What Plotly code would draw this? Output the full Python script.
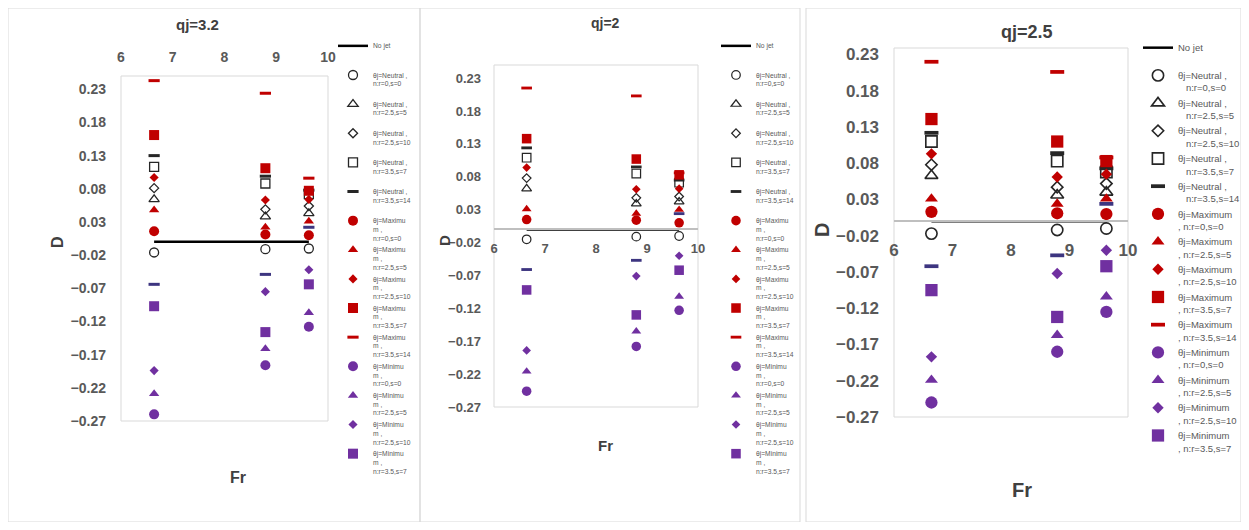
import plotly.graph_objects as go

# ---------------- data ----------------
FR = [6.64, 8.79, 9.63]
NO_JET = [0.0, 0.0, 0.0]

PANEL_TITLES = ["qj=3.2", "qj=2", "qj=2.5"]
X_TICKS = [6, 7, 8, 9, 10]
Y_TICKS = [-0.27, -0.22, -0.17, -0.12, -0.07, -0.02, 0.03, 0.08, 0.13, 0.18, 0.23]

SERIES_CASES = ["n:r=0,s=0", "n:r=2.5,s=5", "n:r=2.5,s=10", "n:r=3.5,s=7", "n:r=3.5,s=14"]

# order inside each group: circle, triangle, diamond, square, dash
QJ32_NEUTRAL = [[-0.016, -0.011, -0.010], [0.064, 0.038, 0.043], [0.081, 0.049, 0.054],
                [0.113, 0.088, 0.072], [0.130, 0.099, 0.078]]
QJ32_MAXIMUM = [[0.016, 0.011, 0.010], [0.048, 0.022, 0.031], [0.097, 0.063, 0.064],
                [0.161, 0.111, 0.077], [0.243, 0.224, 0.096]]
QJ32_MINIMUM = [[-0.260, -0.186, -0.128], [-0.229, -0.161, -0.107], [-0.194, -0.075, -0.042],
                [-0.097, -0.136, -0.064], [-0.064, -0.049, 0.022]]

QJ2_NEUTRAL = [[-0.015, -0.011, -0.010], [0.062, 0.039, 0.042], [0.078, 0.048, 0.050],
               [0.109, 0.085, 0.071], [0.124, 0.095, 0.075]]
QJ2_MAXIMUM = [[0.015, 0.014, 0.010], [0.031, 0.024, 0.030], [0.094, 0.061, 0.062],
               [0.138, 0.107, 0.083], [0.215, 0.203, 0.086]]
QJ2_MINIMUM = [[-0.246, -0.178, -0.123], [-0.216, -0.155, -0.102], [-0.184, -0.071, -0.040],
               [-0.092, -0.130, -0.062], [-0.061, -0.047, 0.024]]

QJ25_NEUTRAL = [[-0.017, -0.012, -0.010], [0.063, 0.036, 0.040], [0.078, 0.047, 0.052],
                [0.110, 0.083, 0.068], [0.122, 0.094, 0.073]]
QJ25_MAXIMUM = [[0.013, 0.011, 0.010], [0.031, 0.024, 0.031], [0.093, 0.061, 0.065],
                [0.141, 0.110, 0.083], [0.220, 0.206, 0.088]]
QJ25_MINIMUM = [[-0.250, -0.180, -0.125], [-0.219, -0.157, -0.104], [-0.187, -0.072, -0.040],
                [-0.095, -0.132, -0.062], [-0.062, -0.047, 0.024]]

# ---------------- styling ----------------
OFF = 8                      # default page margin around the plot div
W, H = 1249 - 2 * OFF, 530 - 2 * OFF
FONT = "Liberation Sans, Arial, sans-serif"
GRAY = "#595959"
RED = "#C00000"
PURPLE = "#7030A0"
NAVY = "#3D3580"
BLACK = "#262626"

SYM_OPEN = ["circle-open", "triangle-up-open", "diamond-open", "square-open", "line-ew-open"]
SYM_FILL = ["circle", "triangle-up", "diamond", "square", "line-ew-open"]
BASE_SIZE = [9, 9, 7, 9, 8]


def px_x(p):
    return min(max((p - OFF) / W, 0.0), 1.0)


def px_y(p):
    return min(max(1 - (p - OFF) / H, 0.0), 1.0)


panels = [
    dict(data=(QJ32_NEUTRAL, QJ32_MAXIMUM, QJ32_MINIMUM), xd=(121, 328), yd=(76, 421),
         yr=(-0.27, 0.25), scale=1.0, tick=14, xside="top", legx=333, legy=35, legfont=6.7,
         narrow=True, title=(198, 25), dlab=(58, 242), frlab=(238, 477), tfont=15, afont=16,
         xstand=10, ystand=14, box=(8, 7, 420, 528)),
    dict(data=(QJ2_NEUTRAL, QJ2_MAXIMUM, QJ2_MINIMUM), xd=(494, 698), yd=(65, 407),
         yr=(-0.27, 0.25), scale=0.95, tick=13, xside="zero", legx=716, legy=35, legfont=6.7,
         narrow=True, title=(605, 23), dlab=(445, 240), frlab=(605, 445), tfont=14, afont=15,
         xstand=7, ystand=12, box=(420, 7, 800, 528)),
    dict(data=(QJ25_NEUTRAL, QJ25_MAXIMUM, QJ25_MINIMUM), xd=(894, 1128), yd=(48, 417),
         yr=(-0.27, 0.239), scale=1.25, tick=17, xside="zero", legx=1138, legy=35, legfont=9.5,
         narrow=False, title=(1027, 32), dlab=(822, 230), frlab=(1022, 490), tfont=18, afont=20,
         xstand=14, ystand=14, box=(806, 5, 1260, 528)),
]

fig = go.Figure()
layout = dict(width=W, height=H, margin=dict(l=0, r=0, t=0, b=0, autoexpand=False),
              paper_bgcolor="white", plot_bgcolor="white", showlegend=True,
              shapes=[], annotations=[])

for i, p in enumerate(panels):
    k = "" if i == 0 else str(i + 1)
    xa, ya = "x" + k, "y" + k
    leg = "legend" + k
    sc = p["scale"]
    neutral, maximum, minimum = p["data"]

    def lname(theta, j):
        if p["narrow"]:
            if theta == "Neutral":
                return "θj=Neutral ,<br>" + SERIES_CASES[j] + "<br>\u00a0"
            return "θj=" + theta[:6] + "<br>" + theta[6:] + " ,<br>" + SERIES_CASES[j]
        if theta == "Neutral":
            return "θj=Neutral ,<br>\u00a0\u00a0\u00a0" + SERIES_CASES[j]
        return "θj=" + theta + "<br>, " + SERIES_CASES[j]

    nojet_name = "No jet<br>\u00a0<br>\u00a0" if p["narrow"] else "No jet<br>\u00a0"
    fig.add_trace(go.Scatter(x=FR, y=NO_JET, mode="lines", name=nojet_name,
                             line=dict(color="black", width=2.5), xaxis=xa, yaxis=ya, legend=leg))

    for theta, group, color in (("Neutral", neutral, BLACK), ("Maximum", maximum, RED),
                                ("Minimum", minimum, PURPLE)):
        for j, vals in enumerate(group):
            sym = SYM_OPEN[j] if theta == "Neutral" else SYM_FILL[j]
            size = BASE_SIZE[j] * sc
            c = color
            show = True
            if theta == "Minimum" and j == 4:
                c = NAVY
                show = False
            if j == 4:
                mk = dict(symbol=sym, size=size, color=c, line=dict(color=c, width=3 * sc))
            elif theta == "Neutral":
                mk = dict(symbol=sym, size=size, color=c, line=dict(color=c, width=1.3 * sc))
            else:
                mk = dict(symbol=sym, size=size + (1 if j in (0, 3) else 0), color=c,
                          line=dict(width=0))
            fig.add_trace(go.Scatter(x=FR, y=vals, mode="markers", name=lname(theta, j),
                                     marker=mk, xaxis=xa, yaxis=ya, legend=leg,
                                     showlegend=show))

    ydom = [px_y(p["yd"][1]), px_y(p["yd"][0])]
    xdom = [px_x(p["xd"][0]), px_x(p["xd"][1])]
    ymin, ymax = p["yr"]
    tickfont = dict(family=FONT, size=p["tick"], color=GRAY, weight="bold")

    xax = dict(domain=xdom, range=[6, 10], tickvals=X_TICKS, showgrid=False, zeroline=False,
               ticks="", tickfont=tickfont, ticklabelstandoff=p["xstand"], fixedrange=True)
    if p["xside"] == "top":
        xax.update(anchor=ya, side="top", showline=False)
    else:
        zero_pos = ydom[0] + (0 - ymin) / (ymax - ymin) * (ydom[1] - ydom[0])
        xax.update(anchor="free", position=zero_pos, side="bottom", showline=True,
                   linecolor="#bfbfbf", linewidth=1.5)
    yax = dict(domain=ydom, range=[ymin, ymax], tickvals=Y_TICKS, tickformat=".2f",
               showgrid=False, zeroline=False, showline=False, ticks="", tickfont=tickfont,
               ticklabelstandoff=p["ystand"], anchor=xa, fixedrange=True)
    layout["xaxis" + k] = xax
    layout["yaxis" + k] = yax

    layout[leg] = dict(x=px_x(p["legx"]), y=px_y(p["legy"]), xanchor="left", yanchor="top",
                       valign="top", bgcolor="rgba(0,0,0,0)", borderwidth=0,
                       font=dict(family=FONT, size=p["legfont"], color=GRAY),
                       itemwidth=30, tracegroupgap=0)

    # plot-area border and panel border
    layout["shapes"].append(dict(type="rect", xref=xa + " domain", yref=ya + " domain",
                                 x0=0, x1=1, y0=0, y1=1, line=dict(color="#d9d9d9", width=1),
                                 layer="below"))
    bx0, by0, bx1, by1 = p["box"]
    layout["shapes"].append(dict(type="rect", xref="paper", yref="paper",
                                 x0=px_x(bx0), x1=px_x(bx1), y0=px_y(by1), y1=px_y(by0),
                                 line=dict(color="#d9d9d9", width=1), layer="below"))

    afont = dict(family=FONT, size=p["afont"], color="#404040", weight="bold")
    layout["annotations"] += [
        dict(text=PANEL_TITLES[i], xref="paper", yref="paper", x=px_x(p["title"][0]),
             y=px_y(p["title"][1]), showarrow=False, xanchor="center", yanchor="middle",
             font=dict(family=FONT, size=p["tfont"], color="#404040", weight="bold")),
        dict(text="D", xref="paper", yref="paper", x=px_x(p["dlab"][0]), y=px_y(p["dlab"][1]),
             showarrow=False, textangle=-90, xanchor="center", yanchor="middle", font=afont),
        dict(text="Fr", xref="paper", yref="paper", x=px_x(p["frlab"][0]),
             y=px_y(p["frlab"][1]), showarrow=False, xanchor="center", yanchor="middle",
             font=afont),
    ]

fig.update_layout(**layout)
fig.write_html("out.html")
